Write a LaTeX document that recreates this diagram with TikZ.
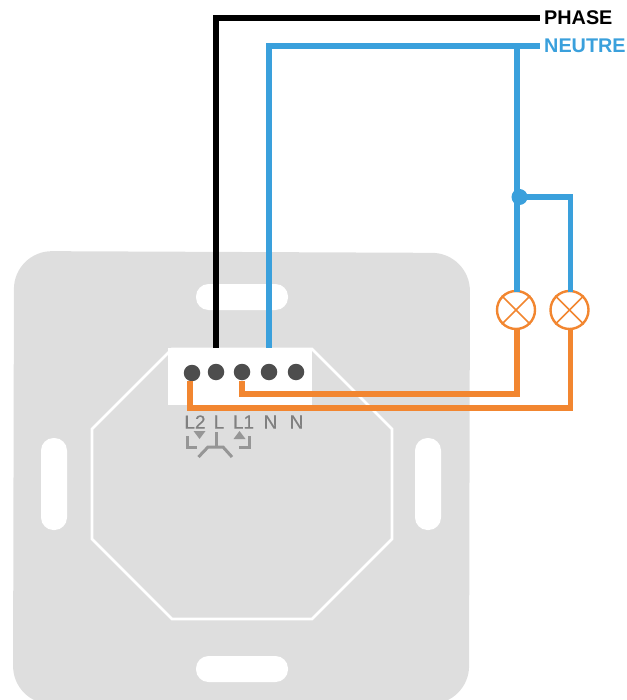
\documentclass[tikz,border=0pt]{standalone}
\usepackage{fontspec}
\setmainfont{Liberation Sans}
\definecolor{plategray}{RGB}{222,222,222}
\definecolor{wireblue}{RGB}{58,160,220}
\definecolor{wireorange}{RGB}{242,134,48}
\definecolor{termgray}{RGB}{77,77,77}
\definecolor{markgray}{RGB}{128,128,128}
\definecolor{symbolgray}{RGB}{150,150,150}
\tikzset{
  slot/.style={fill=white,draw=none,rounded corners=12.5pt},
  terminal/.style={circle,fill=termgray,minimum size=16.5pt,inner sep=0pt},
  wire/.style={line width=5.2pt,miter limit=10},
  switched/.style={wire,wireorange,line width=5.7pt},
  lamp/.style={circle,draw=wireorange,line width=2.4pt,fill=white,minimum size=38pt,inner sep=0pt},
  marking/.style={text=markgray,font=\fontsize{19}{19}\selectfont\addfontfeature{FakeBold=0.4},inner sep=0pt},
  supply/.style={anchor=west,font=\bfseries\fontsize{19.8}{20}\selectfont,inner sep=0pt,inner xsep=4.5pt},
  switchline/.style={draw=symbolgray,line width=3pt}
}

\begin{document}
\begin{tikzpicture}[x=1pt,y=-1pt]
\clip (0,0) rectangle (626,700);

% mounting plate
\fill[plategray,rounded corners=38pt] (14,251) -- (470,253) -- (469,704) -- (13,704) -- cycle;

% the four slots
\fill[slot] (196,284) rectangle (288,310);
\fill[slot] (196,656) rectangle (288,682);
\fill[slot] (41,438) rectangle (67,530);
\fill[slot] (415,438) rectangle (441,530);

% octagon and terminal block
\draw[white,line width=2.8pt] (172,349) -- (312,349) -- (392,429) -- (392,539) -- (312,619) -- (172,619) -- (92,539) -- (92,429) -- cycle;
\node[fill=white,inner sep=0pt,minimum width=144pt,minimum height=57.5pt] (block) at (240,376.7) {};

\foreach \x/\y/\name in {192/373/termltwo, 216/372/terml, 242/372/termlone, 269/372/termna, 296/372/termnb}
	\node[terminal] (\name) at (\x,\y) {};

% printed markings
\foreach \x/\text/\name in {195/L2/markltwo, 219/L/markl, 243.5/L1/marklone, 270.5/N/markna, 296.5/N/marknb}
	\node[marking] (\name) at (\x,422) {\text};

% switch symbol
\draw[switchline] (187.5,436) -- (187.5,447) -- (197,447);
\draw[switchline] (249.5,436) -- (249.5,447) -- (239,447);
\draw[switchline] (216,432) -- (216,446);
\draw[switchline] (198.5,457) -- (208,447) -- (223,447) -- (232,457);
\fill[symbolgray] (193.5,431) -- (205.5,431) -- (199.5,439) -- cycle;
\fill[symbolgray] (233.5,439) -- (245.5,439) -- (239.5,431) -- cycle;

% supply labels
\node[supply] (phase) at (539.5,18) {PHASE};
\node[supply,text=wireblue] (neutre) at (539.5,46) {NEUTRE};

% the two lamps
\node[lamp] (lampa) at (516,310) {};
\node[lamp] (lampb) at (569.5,310) {};
\foreach \name in {lampa, lampb} {
	\draw[wireorange,line width=1.5pt] (\name.45) -- (\name.225);
	\draw[wireorange,line width=1.5pt] (\name.135) -- (\name.315);
}

% supply wires
\coordinate (phaseend) at (216,348);
\coordinate (neutreend) at (269,348);
\draw[wire] (phase.west) -| (phaseend);
\draw[wire,wireblue] (neutre.west) -| (neutreend);

\node[circle,fill=wireblue,minimum size=16pt,inner sep=0pt] (junction) at (519.5,197) {};
\coordinate (lampatop) at (517,292);
\coordinate (lampbtop) at (570.5,292);
\coordinate (neutretap) at (517,46);
\draw[wire,wireblue] (neutretap) -- (lampatop);
\draw[wire,wireblue] (junction.center) -| (lampbtop);

% switched wires
\coordinate (ltwoout) at (190,381);
\coordinate (loneout) at (242,381);
\coordinate (lampabot) at (517,329);
\coordinate (lampbbot) at (570.5,329);
\draw[switched] (ltwoout) |- (570.5,408) -- (lampbbot);
\draw[switched] (loneout) |- (517,394) -- (lampabot);
\end{tikzpicture}
\end{document}
